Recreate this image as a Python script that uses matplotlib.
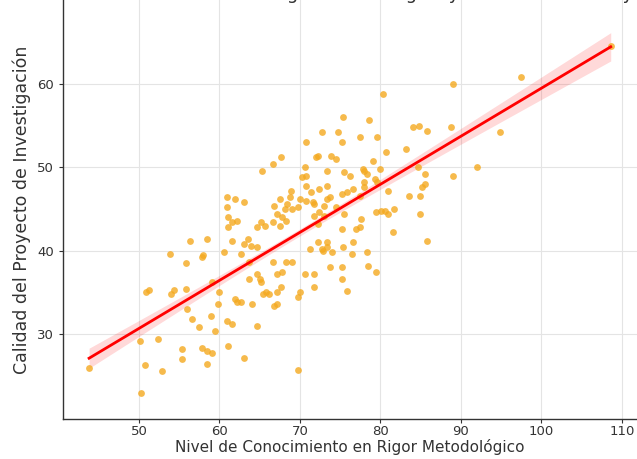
import numpy as np
import matplotlib
matplotlib.use("Agg")
import matplotlib.pyplot as plt

# Estimated data
conocimiento = [
    43.8, 50.3, 50.7, 50.1, 50.9, 51.3, 52.3, 52.8, 53.8, 54.0,
    54.4, 55.3, 55.4, 55.9, 55.9, 56.0, 56.3, 56.6, 57.5, 57.8,
    57.8, 58.0, 58.5, 58.5, 58.5, 59.0, 59.1, 59.4, 59.1, 59.8,
    60.0, 60.6, 60.9, 61.0, 61.5, 60.9, 61.9, 63.1, 60.9, 61.0,
    61.6, 62.2, 61.0, 61.6, 62.7, 63.1, 63.5, 63.7, 61.9, 62.2,
    62.7, 64.0, 64.6, 63.1, 63.7, 64.6, 64.7, 65.3, 66.6, 67.7,
    66.6, 67.2, 67.8, 68.1, 68.4, 69.0, 65.2, 65.6, 67.5, 66.8,
    63.9, 64.7, 65.2, 65.8, 66.2, 67.1, 67.1, 67.7, 66.8, 66.6,
    68.3, 69.0, 67.8, 67.1, 69.7, 69.7, 65.0, 65.4, 67.5, 68.9,
    68.7, 69.7, 68.3,
    70.0, 70.8, 71.8, 72.4, 73.0, 72.2, 73.3, 72.8, 73.4, 74.0,
    75.3, 77.4, 78.3, 70.8, 70.3, 70.6, 70.8, 72.7, 74.7, 75.2,
    75.3, 78.6, 77.4, 79.6, 73.9, 74.5, 73.4, 72.2, 75.5, 76.2,
    76.6, 77.4, 78.0, 79.1, 79.3, 73.7, 72.4, 70.6, 71.8, 70.0,
    71.8, 72.7, 73.7, 75.2, 76.6, 76.4, 78.4, 79.5, 77.0, 79.5,
    75.2, 71.2, 72.2, 75.2, 75.8, 70.8, 71.4, 73.3, 75.8, 77.8,
    78.3, 78.0, 78.0, 79.6, 71.6, 73.4, 73.0, 74.5, 75.5, 71.8,
    77.6, 75.2, 72.0, 79.9,
    80.3, 89.0, 97.5, 84.0, 84.8, 85.8, 88.8, 94.8, 83.2, 80.7,
    84.6, 85.5, 85.5, 85.2, 89.0, 92.0, 84.9, 83.6, 80.9, 80.5,
    80.9, 81.7, 81.5, 84.9, 85.8, 80.1, 108.6,
]
calidad = [
    26.0, 23.0, 26.3, 29.2, 35.0, 35.3, 29.4, 25.6, 39.6, 34.8,
    35.3, 28.2, 27.0, 35.4, 38.5, 33.0, 41.1, 31.8, 30.8, 28.4,
    39.2, 39.5, 41.4, 28.0, 26.4, 32.2, 27.8, 30.4, 36.2, 33.6,
    35.0, 39.8, 31.6, 28.6, 31.2, 46.4, 46.2, 45.8, 45.2, 44.0,
    43.4, 43.5, 42.8, 41.1, 39.6, 40.8, 41.4, 38.6, 34.2, 33.8,
    33.8, 33.6, 31.0, 27.2, 36.6, 42.8, 40.4, 49.5, 50.4, 51.2,
    43.4, 44.4, 44.0, 45.0, 45.6, 45.0, 43.4, 42.9, 42.9, 45.3,
    40.6, 37.2, 36.2, 35.0, 34.8, 37.2, 33.6, 35.7, 33.4, 38.6,
    38.6, 38.6, 37.4, 35.0, 34.4, 25.7, 36.6, 34.8, 46.2, 47.1,
    46.4, 45.2, 43.6,
    46.2, 45.9, 45.6, 44.6, 44.1, 43.2, 41.0, 39.9, 40.4, 39.8,
    40.4, 42.8, 39.8, 47.7, 48.8, 50.0, 53.0, 54.2, 54.2, 53.0,
    56.0, 55.7, 53.6, 53.6, 51.3, 51.0, 49.5, 51.3, 49.4, 48.9,
    47.4, 46.5, 49.5, 50.7, 48.6, 46.4, 47.4, 37.2, 37.2, 35.0,
    35.7, 40.2, 38.1, 38.0, 41.0, 39.6, 38.2, 37.5, 42.6, 44.6,
    46.8, 40.2, 41.0, 36.6, 35.2, 48.9, 47.0, 47.7, 47.0, 49.8,
    49.2, 48.2, 47.6, 48.2, 45.8, 46.2, 45.3, 45.2, 44.4, 44.1,
    43.8, 42.6, 51.2, 49.8,
    58.7, 60.0, 60.8, 54.8, 54.9, 54.3, 54.8, 54.2, 52.2, 51.8,
    50.0, 49.2, 48.0, 47.6, 48.9, 50.0, 46.5, 46.5, 47.1, 44.7,
    44.4, 45.0, 42.2, 44.4, 41.1, 44.7, 64.5,
]
x_ticks = [50, 60, 70, 80, 90, 100, 110]
y_ticks = [30, 40, 50, 60]
x_label = "Nivel de Conocimiento en Rigor Metodológico"
y_label = "Calidad del Proyecto de Investigación"
title = "Relación entre el Nivel de Conocimiento en Rigor Metodológico y la Calidad del Proyecto de Investigación"

x = np.array(conocimiento)
y = np.array(calidad)

fig = plt.figure(figsize=(6.37, 4.59), dpi=100)
ax = fig.add_axes([0.0989, 0.0882, 0.9008, 0.948])

ax.scatter(x, y, s=24, color="#F4A91F", alpha=0.8, linewidths=0, zorder=3)

# linear fit with a confidence band of about one standard error
slope, intercept = np.polyfit(x, y, 1)
xs = np.linspace(x.min(), x.max(), 200)
ys = slope * xs + intercept
n = len(x)
resid = y - (slope * x + intercept)
s = np.sqrt(np.sum(resid ** 2) / (n - 2))
sxx = np.sum((x - x.mean()) ** 2)
se = s * np.sqrt(1.0 / n + (xs - x.mean()) ** 2 / sxx)
band = 1.1 * se
ax.fill_between(xs, ys - band, ys + band, color="red", alpha=0.15, linewidth=0, zorder=2)
ax.plot(xs, ys, color="red", lw=2, zorder=4)

ax.set_xlim(40.56, 111.84)
ax.set_ylim(19.9, 72)
ax.set_xticks(x_ticks)
ax.set_yticks(y_ticks)
ax.grid(True, color="#e4e4e4", lw=0.8)
ax.set_axisbelow(True)
for side in ["top", "right"]:
    ax.spines[side].set_visible(False)
for side in ["left", "bottom"]:
    ax.spines[side].set_color("#333333")
    ax.spines[side].set_linewidth(1.0)
ax.tick_params(labelsize=9.5, colors="#333333", length=3)
ax.tick_params(axis="x", pad=1.5)

ax.set_xlabel(x_label, fontsize=11, color="#333333", labelpad=1)
ax.set_ylabel(y_label, fontsize=12.5, color="#333333")
ax.yaxis.set_label_coords(-0.055, 0.479)

fig.text(0.549, 1.0025, title, ha="center", va="baseline", fontsize=13, color="#333333")

fig.savefig("out.png", dpi=100)
